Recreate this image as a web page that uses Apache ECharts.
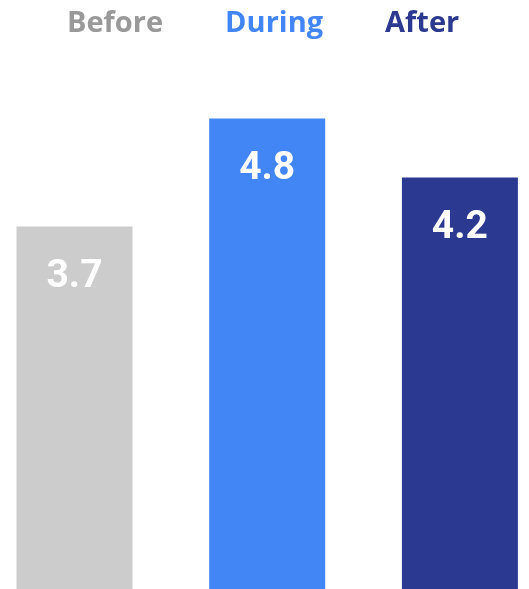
<!DOCTYPE html>
<html><head><meta charset="utf-8">
<script src="https://cdn.jsdelivr.net/npm/echarts@6/dist/echarts.min.js"></script>
<style>html,body{margin:0;padding:0;background:#fff}#c{width:529px;height:589px}</style>
</head><body><div id="c"></div>
<script>
var categories = ['Before', 'During', 'After'];
var values = [3.7, 4.8, 4.2];
var barColors = ['#cccccc', '#4285f4', '#2b3990'];
var legendColors = ['#999999', '#4285f4', '#2b3990'];

var series = categories.map(function (name, i) {
  return {
    name: name,
    type: 'bar',
    barWidth: 116,
    barGap: '-100%',
    itemStyle: { color: barColors[i] },
    data: [[i, values[i]]],
    label: {
      show: true,
      position: 'insideTop',
      distance: 31,
      color: '#ffffff',
      fontFamily: 'Roboto',
      fontWeight: 'bold',
      fontSize: 39,
      formatter: function (p) { return p.value[1].toFixed(1); }
    }
  };
});

var chart = echarts.init(document.getElementById('c'));
chart.setOption({
  animation: false,
  legend: {
    top: 4,
    left: 57,
    icon: 'none',
    itemWidth: 0,
    itemGap: 57,
    selectedMode: false,
    textStyle: { fontFamily: 'Open Sans', fontWeight: 'bold', fontSize: 29 },
    data: categories.map(function (n, i) {
      return { name: n, textStyle: { color: legendColors[i] } };
    })
  },
  grid: { left: 0, right: 0, top: 1, bottom: 0, containLabel: false },
  xAxis: {
    type: 'value', min: -0.3866, max: 2.3586,
    splitLine: { show: false }, axisLine: { show: false }, axisTick: { show: false }, axisLabel: { show: false }
  },
  yAxis: {
    type: 'value', min: 0, max: 6,
    splitLine: { show: false }, axisLine: { show: false }, axisTick: { show: false }, axisLabel: { show: false }
  },
  series: series
});
</script></body></html>
